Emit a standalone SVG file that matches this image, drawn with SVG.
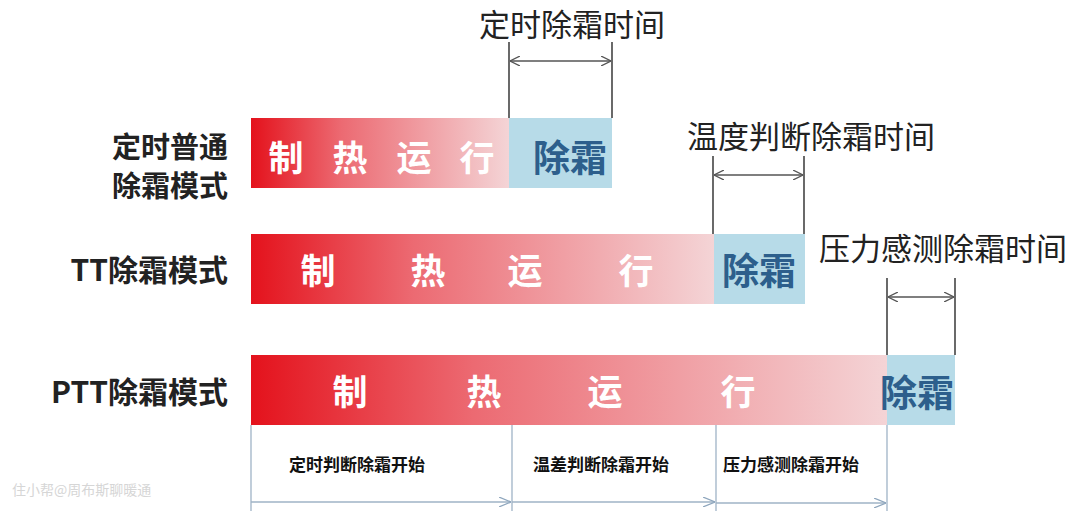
<svg xmlns="http://www.w3.org/2000/svg" width="1080" height="511" viewBox="0 0 1080 511">
<defs>
<linearGradient id="red" x1="0" y1="0" x2="1" y2="0">
<stop offset="0" stop-color="#e4121c"/>
<stop offset="0.35" stop-color="#ec6a72"/>
<stop offset="1" stop-color="#f4d4d6"/>
</linearGradient>
<marker id="ah" viewBox="0 0 10 10" refX="10" refY="5" markerWidth="10" markerHeight="10" markerUnits="userSpaceOnUse" orient="auto-start-reverse">
<path d="M0,0 L10,5 L0,10" fill="none" stroke="#555" stroke-width="1.3"/>
</marker>
<marker id="ahb" viewBox="0 0 12 10" refX="12" refY="5" markerWidth="12" markerHeight="10" markerUnits="userSpaceOnUse" orient="auto">
<path d="M0,0 L12,5 L0,10" fill="none" stroke="#8ea6bd" stroke-width="1.2"/>
</marker>
</defs>
<style>
.mode{font-family:"Noto Sans CJK SC","Liberation Sans",sans-serif;font-weight:bold;font-size:30px;fill:#222;text-anchor:end}
.m1{font-size:29px}
.run{font-family:"Noto Sans CJK SC",sans-serif;font-weight:bold;font-size:35px;fill:#fff;text-anchor:middle}
.def{font-family:"Noto Sans CJK SC",sans-serif;font-weight:bold;font-size:37px;fill:#2d5f8c;text-anchor:middle}
.dim{font-family:"Noto Sans CJK SC",sans-serif;font-size:31px;fill:#222;text-anchor:middle}
.start{font-family:"Noto Sans CJK SC",sans-serif;font-weight:bold;font-size:17px;fill:#111;text-anchor:middle}
.vl{stroke:#444;stroke-width:1.6}
.al{stroke:#555;stroke-width:1.4;fill:none}
.bl{stroke:#9fb3c6;stroke-width:1.3;fill:none}
</style>
<rect width="1080" height="511" fill="#fff"/>
<g id="mode1">
<text class="mode m1" x="228" y="158">定时普通</text>
<text class="mode m1" x="228" y="197">除霜模式</text>
</g>
<g id="mode2"><text class="mode" x="228" y="281">TT除霜模式</text></g>
<g id="mode3"><text class="mode" x="228" y="403">PTT除霜模式</text></g>
<g id="bar1">
<rect x="251" y="118" width="258" height="70" fill="url(#red)"/>
<rect x="509" y="118" width="103" height="70" fill="#b7dbe8"/>
<text class="run" x="286" y="171">制</text><text class="run" x="350" y="171">热</text><text class="run" x="414" y="171">运</text><text class="run" x="477" y="171">行</text>
<text class="def" x="570" y="172">除霜</text>
</g>
<g id="bar2">
<rect x="251" y="234" width="463" height="70" fill="url(#red)"/>
<rect x="714" y="234" width="91" height="70" fill="#b7dbe8"/>
<text class="run" x="318" y="284">制</text><text class="run" x="428" y="284">热</text><text class="run" x="525" y="284">运</text><text class="run" x="636" y="284">行</text>
<text class="def" x="759" y="285">除霜</text>
</g>
<g id="bar3">
<rect x="251" y="355" width="636" height="70" fill="url(#red)"/>
<rect x="887" y="355" width="68" height="70" fill="#b7dbe8"/>
<text class="run" x="350" y="405">制</text><text class="run" x="484" y="405">热</text><text class="run" x="605" y="405">运</text><text class="run" x="738" y="405">行</text>
<text class="def" x="917" y="407">除霜</text>
</g>
<g id="dim1">
<text class="dim" x="572" y="36">定时除霜时间</text>
</g>
<g id="dim2">
<text class="dim" x="811" y="148">温度判断除霜时间</text>
</g>
<g id="dim3">
<text class="dim" x="943" y="260">压力感测除霜时间</text>
</g>
<g id="starts">
<text class="start" x="357" y="471">定时判断除霜开始</text>
<text class="start" x="601" y="471">温差判断除霜开始</text>
<text class="start" x="791" y="471">压力感测除霜开始</text>
</g>
<g id="connectors">
<line class="vl" x1="509" y1="42" x2="509" y2="118"/>
<line class="vl" x1="612" y1="42" x2="612" y2="118"/>
<line class="al" x1="510" y1="61" x2="611" y2="61" marker-start="url(#ah)" marker-end="url(#ah)"/>
<line class="vl" x1="713" y1="156" x2="713" y2="234"/>
<line class="vl" x1="804" y1="156" x2="804" y2="234"/>
<line class="al" x1="714" y1="175" x2="803" y2="175" marker-start="url(#ah)" marker-end="url(#ah)"/>
<line class="vl" x1="887" y1="278" x2="887" y2="355"/>
<line class="vl" x1="955" y1="278" x2="955" y2="355"/>
<line class="al" x1="888" y1="297" x2="954" y2="297" marker-start="url(#ah)" marker-end="url(#ah)"/>
<line class="bl" x1="251" y1="425" x2="251" y2="511"/>
<line class="bl" x1="512" y1="425" x2="512" y2="511"/>
<line class="bl" x1="716" y1="425" x2="716" y2="511"/>
<line class="bl" x1="887" y1="425" x2="887" y2="511"/>
<line class="bl" x1="251" y1="502" x2="511" y2="502" marker-end="url(#ahb)"/>
<line class="bl" x1="512" y1="502" x2="715" y2="502" marker-end="url(#ahb)"/>
<line class="bl" x1="716" y1="503" x2="886" y2="503" marker-end="url(#ahb)"/>
</g>
<text x="12" y="495" font-family="Noto Sans CJK SC,sans-serif" font-size="14" fill="#d6d6d6">住小帮@周布斯聊暖通</text>
</svg>
